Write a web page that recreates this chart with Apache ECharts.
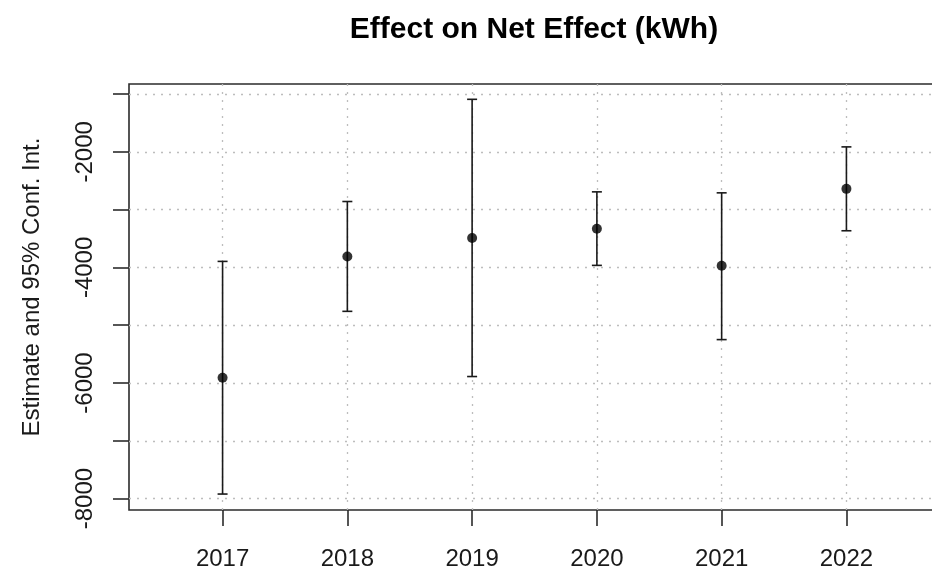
<!DOCTYPE html>
<html>
<head>
<meta charset="utf-8">
<script src="https://cdn.jsdelivr.net/npm/echarts@6/dist/echarts.min.js"></script>
<style>
html,body{margin:0;padding:0;background:#fff;}
#chart{width:932px;height:576px;}
</style>
</head>
<body>
<div id="chart"></div>
<script>
const years = [2017, 2018, 2019, 2020, 2021, 2022];
const estimate = [-5910, -3810, -3492, -3332, -3971, -2641];
const lower = [-7921, -4760, -5888, -3965, -5249, -3366];
const upper = [-3896, -2860, -1092, -2693, -2710, -1915];
const yTickValues = [-8000, -7000, -6000, -5000, -4000, -3000, -2000, -1000];
const yLabelValues = [-8000, -6000, -4000, -2000];
const titleText = 'Effect on Net Effect (kWh)';
const yTitle = 'Estimate and 95% Conf. Int.';

const FONT = '"Liberation Sans", Arial, Helvetica, sans-serif';
const chart = echarts.init(document.getElementById('chart'), null, {renderer: 'canvas'});

const gridLineStyle = {color: '#bdbdbd', width: 1.3, type: [2, 6]};
const markLines = [];
years.forEach(y => markLines.push({xAxis: y}));
yTickValues.forEach(v => markLines.push({yAxis: v}));

const option = {
  animation: false,
  backgroundColor: '#fff',
  title: {
    text: titleText,
    left: 529,
    top: 25,
    textAlign: 'center',
    textVerticalAlign: 'middle',
    textStyle: {fontFamily: FONT, fontSize: 30, fontWeight: 'bold', color: '#000'}
  },
  graphic: [{
    type: 'text',
    x: 32, y: 287,
    rotation: Math.PI / 2,
    style: {
      text: yTitle, fontFamily: FONT, fontSize: 24, fill: '#1a1a1a',
      align: 'center', verticalAlign: 'middle'
    }
  }],
  grid: {
    left: 129, top: 84, width: 811, height: 426,
    outerBoundsMode: 'none', containLabel: false,
    show: true, borderColor: '#2b2b2b', borderWidth: 1.6, backgroundColor: 'transparent'
  },
  xAxis: {
    type: 'value', min: 2016.25, max: 2022.75,
    axisLine: {show: false},
    splitLine: {show: false},
    axisTick: {show: true, length: 16, customValues: years, lineStyle: {color: '#2b2b2b', width: 1.6}},
    axisLabel: {
      customValues: years, margin: 37, color: '#1a1a1a',
      fontFamily: FONT, fontSize: 24, formatter: v => String(v)
    }
  },
  yAxis: {
    type: 'value', min: -8197, max: -827,
    axisLine: {show: false},
    splitLine: {show: false},
    axisTick: {show: true, length: 16, customValues: yTickValues, lineStyle: {color: '#2b2b2b', width: 1.6}},
    axisLabel: {
      customValues: yLabelValues, rotate: 90, margin: 32, color: '#1a1a1a',
      fontFamily: FONT, fontSize: 24, formatter: v => String(v)
    }
  },
  series: [
    {
      type: 'line', data: [], silent: true, z: 0,
      markLine: {
        silent: true, symbol: ['none', 'none'], label: {show: false},
        lineStyle: gridLineStyle, emphasis: {disabled: true},
        data: markLines
      }
    },
    {
      type: 'custom',
      data: years.map((y, i) => [y, lower[i], upper[i]]),
      renderItem: function (params, api) {
        const x = api.value(0);
        const lo = api.coord([x, api.value(1)]);
        const hi = api.coord([x, api.value(2)]);
        const hw = 5;
        const st = {stroke: '#1a1a1a', lineWidth: 1.6};
        return {
          type: 'group',
          children: [
            {type: 'line', shape: {x1: lo[0], y1: lo[1], x2: hi[0], y2: hi[1]}, style: st},
            {type: 'line', shape: {x1: lo[0] - hw, y1: lo[1], x2: lo[0] + hw, y2: lo[1]}, style: st},
            {type: 'line', shape: {x1: hi[0] - hw, y1: hi[1], x2: hi[0] + hw, y2: hi[1]}, style: st}
          ]
        };
      },
      z: 5
    },
    {
      type: 'scatter',
      data: years.map((y, i) => [y, estimate[i]]),
      symbol: 'circle', symbolSize: 10,
      itemStyle: {color: '#000'},
      z: 6
    }
  ]
};
chart.setOption(option);
</script>
</body>
</html>
